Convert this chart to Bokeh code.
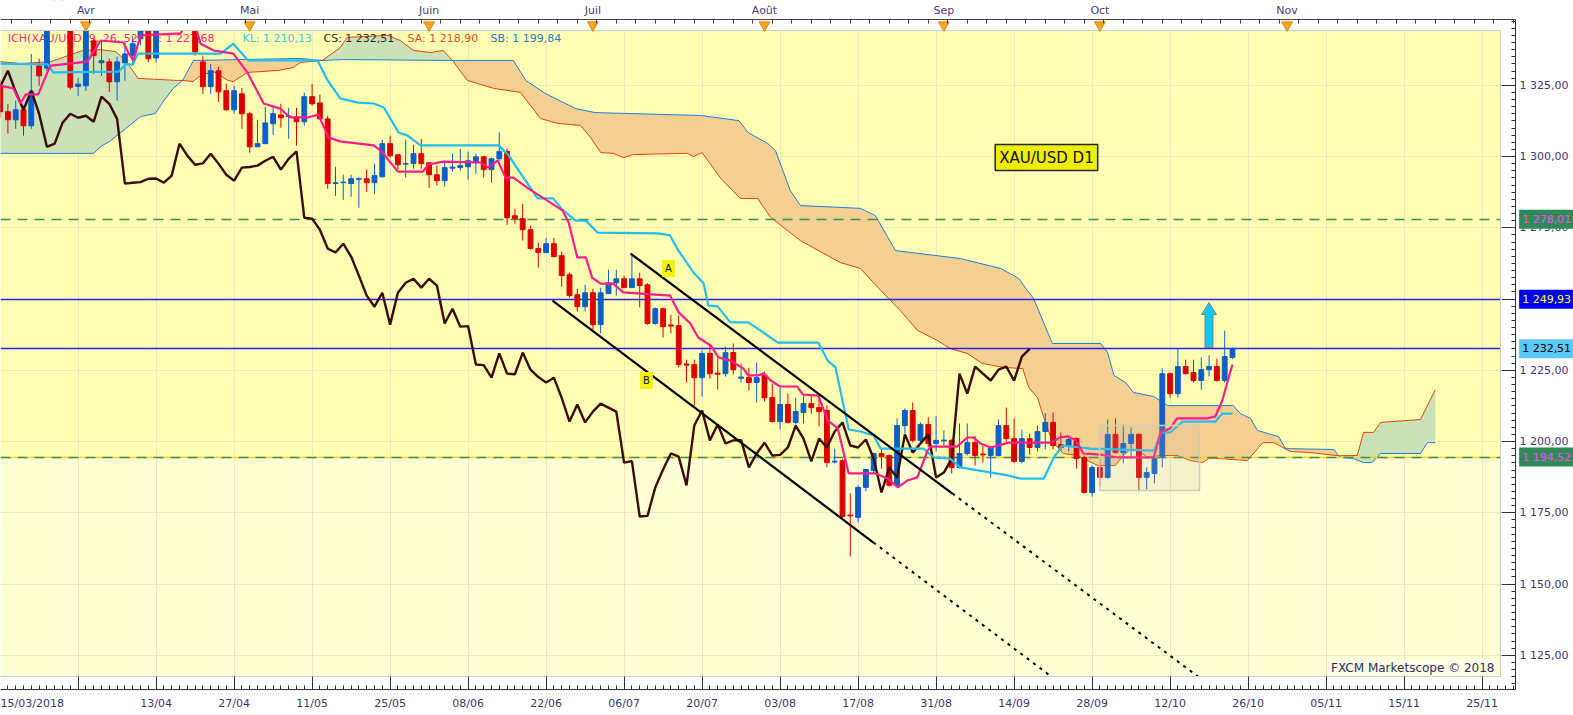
import numpy as np
from bokeh.plotting import figure
from bokeh.models import (Range1d, LinearAxis, FixedTicker, BoxAnnotation, Label,
                          ColumnDataSource)
from bokeh.core.properties import value
from bokeh.embed import file_html
from bokeh.resources import INLINE

# ---------------- data (XAU/USD daily, bar index 0 = mid-March 2018) ----------------
opens = [1324.8,1315.7,1312.9,1316.4,1310.8,1331.8,1331.0,1347.0,1353.0,1349.0,
         1324.6,1324.8,1340.6,1332.9,1333.2,1326.2,1332.9,1335.4,1341.3,1350.0,
         1334.6,1347.0,1348.0,1350.0,1347.0,1348.0,1333.2,1324.5,1330.1,1323.1,
         1316.4,1322.0,1315.0,1303.4,1304.5,1311.5,1314.6,1314.0,1313.9,1312.2,
         1321.0,1318.8,1313.2,1290.5,1290.8,1290.5,1292.0,1292.2,1290.8,1292.9,
         1304.5,1300.6,1297.3,1297.5,1301.0,1297.8,1293.6,1291.5,1295.9,1296.1,
         1296.4,1297.8,1299.9,1295.4,1299.2,1301.8,1279.2,1278.2,1274.3,1267.7,
         1266.3,1269.4,1265.2,1258.5,1251.5,1247.3,1252.2,1241.0,1251.9,1255.7,
         1257.1,1254.0,1257.1,1255.0,1241.4,1246.6,1240.9,1240.7,1227.2,1227.0,
         1222.4,1230.9,1224.0,1223.8,1231.2,1222.2,1222.4,1220.7,1223.3,1215.4,
         1207.0,1213.0,1206.7,1210.2,1213.3,1211.9,1210.9,1192.8,1193.3,1174.2,
         1173.4,1183.9,1189.8,1195.8,1195.1,1184.6,1205.6,1210.9,1200.4,1206.0,
         1199.3,1200.2,1200.4,1190.9,1195.8,1199.6,1195.6,1195.1,1195.1,1205.6,
         1201.0,1193.0,1201.0,1197.9,1203.5,1206.7,1198.9,1198.6,1201.0,1194.4,
         1182.1,1190.9,1187.4,1202.5,1196.1,1199.3,1202.5,1187.4,1188.8,1194.7,
         1223.8,1216.8,1226.3,1224.2,1221.4,1225.2,1226.3,1221.4,1229.5]
highs = [1327.0,1318.5,1319.6,1317.8,1336.0,1334.3,1352.0,1356.0,1357.0,1350.5,
         1327.6,1349.0,1341.3,1340.6,1334.3,1335.0,1340.3,1342.3,1349.0,1352.0,
         1348.0,1351.0,1352.0,1354.0,1350.0,1349.0,1335.4,1332.5,1331.5,1325.5,
         1324.8,1324.0,1315.7,1312.9,1317.4,1317.8,1318.5,1317.1,1317.1,1322.4,
         1325.5,1321.7,1314.3,1296.4,1293.6,1293.6,1292.6,1295.4,1297.5,1305.9,
         1307.3,1300.6,1305.9,1304.1,1306.2,1297.8,1296.8,1298.5,1301.0,1302.7,
         1301.7,1301.0,1300.2,1299.6,1308.5,1302.7,1281.7,1283.4,1275.7,1269.8,
         1271.5,1271.5,1266.6,1259.2,1253.6,1255.0,1253.6,1254.0,1260.3,1260.3,
         1258.2,1265.9,1259.2,1255.5,1247.0,1247.0,1244.5,1244.2,1228.7,1228.7,
         1231.9,1234.0,1229.1,1233.3,1234.4,1227.3,1225.9,1227.7,1224.5,1220.3,
         1218.9,1216.8,1215.4,1216.1,1216.1,1215.8,1212.6,1197.5,1193.8,1181.8,
         1184.6,1190.2,1196.1,1197.5,1195.5,1208.1,1211.6,1213.7,1206.7,1208.5,
         1209.0,1203.9,1200.8,1206.3,1206.3,1202.0,1198.6,1198.6,1207.7,1211.9,
         1208.1,1204.2,1202.8,1205.6,1210.0,1210.2,1203.2,1201.4,1201.4,1195.1,
         1191.6,1194.0,1207.7,1208.1,1206.0,1204.9,1202.8,1190.9,1195.8,1225.6,
         1224.2,1232.6,1228.7,1228.7,1229.5,1230.2,1229.1,1238.9,1233.0]
lows = [1313.5,1308.0,1309.7,1307.3,1309.7,1324.8,1330.0,1346.5,1347.0,1323.5,
        1321.3,1323.0,1329.0,1328.3,1322.7,1319.6,1326.6,1331.8,1339.0,1333.0,
        1333.0,1345.5,1346.0,1346.0,1345.5,1335.4,1322.0,1322.0,1319.2,1316.0,
        1315.0,1309.7,1301.3,1303.4,1304.5,1307.6,1310.1,1306.2,1303.8,1310.8,
        1317.8,1312.9,1288.7,1286.2,1284.8,1285.9,1282.0,1287.6,1286.9,1292.6,
        1299.6,1295.4,1292.6,1295.7,1295.7,1289.0,1289.8,1289.4,1294.7,1295.0,
        1291.9,1294.0,1292.6,1290.8,1298.5,1276.0,1276.4,1270.5,1267.3,1261.0,
        1266.0,1264.5,1254.3,1250.5,1245.6,1245.6,1238.9,1237.9,1251.9,1251.2,
        1254.0,1254.0,1247.0,1241.0,1241.0,1236.5,1237.9,1226.0,1220.7,1212.6,
        1215.8,1222.1,1218.2,1222.8,1223.5,1220.7,1217.9,1213.7,1214.0,1206.7,
        1204.2,1206.3,1206.0,1206.3,1209.8,1205.3,1190.9,1192.3,1173.0,1159.7,
        1171.6,1182.5,1188.8,1190.5,1184.2,1184.2,1202.8,1199.6,1199.3,1198.0,
        1196.5,1198.6,1188.8,1190.5,1195.1,1191.5,1192.6,1187.4,1194.7,1200.0,
        1192.6,1192.3,1195.4,1196.5,1197.2,1197.2,1196.8,1196.5,1190.5,1181.8,
        1180.7,1184.2,1187.0,1195.8,1192.3,1194.4,1182.5,1183.2,1185.3,1190.9,
        1215.4,1215.4,1223.5,1220.7,1218.2,1222.8,1221.0,1220.7,1229.0]
closes = [1315.7,1312.9,1316.4,1310.8,1322.7,1328.3,1347.5,1353.0,1349.0,1324.3,
          1325.4,1347.0,1335.4,1333.6,1326.2,1333.2,1336.0,1339.6,1347.0,1334.3,
          1347.0,1348.0,1350.0,1347.0,1348.0,1336.7,1324.5,1330.1,1322.7,1316.4,
          1323.1,1315.0,1303.4,1304.5,1311.8,1315.0,1313.6,1314.3,1312.2,1321.0,
          1318.5,1313.2,1290.5,1290.8,1291.0,1292.2,1292.3,1290.8,1293.3,1304.5,
          1300.3,1297.1,1297.6,1301.0,1297.5,1293.6,1291.5,1296.1,1296.3,1296.8,
          1298.5,1299.9,1295.4,1299.2,1301.8,1278.5,1278.2,1274.3,1267.7,1266.3,
          1269.4,1264.9,1258.2,1251.2,1247.3,1252.2,1241.0,1252.2,1255.7,1257.1,
          1254.0,1257.1,1254.7,1241.4,1246.6,1240.3,1240.5,1227.0,1226.8,1222.4,
          1230.9,1223.8,1223.6,1231.2,1225.2,1222.6,1220.7,1222.4,1215.3,1207.0,
          1213.0,1206.7,1210.5,1213.3,1211.9,1210.5,1192.6,1193.1,1173.7,1173.9,
          1183.9,1190.2,1195.8,1194.7,1184.6,1205.6,1210.9,1200.4,1206.0,1199.3,
          1200.4,1200.5,1190.9,1195.8,1199.6,1195.1,1195.3,1197.9,1205.6,1201.0,
          1193.0,1201.0,1197.9,1203.5,1206.7,1198.6,1197.9,1200.7,1194.0,1182.1,
          1190.9,1187.4,1202.5,1196.1,1199.3,1202.5,1187.4,1189.1,1194.0,1223.8,
          1216.8,1226.3,1223.8,1221.4,1225.2,1226.3,1221.4,1229.8,1232.5]
bar_index = list(range(len(closes)))
chikou_shift = 26

tenkan_x = [0.0,1.7,2.6,3.3,4.9,6.1,6.5,11.2,12.9,15.8,16.5,17.1,18.0,23.1,23.9,25.0,25.7,27.4,29.9,31.7,
            33.8,35.9,37.2,39.4,40.8,42.1,43.6,47.9,48.8,51.0,54.2,54.9,56.8,61.6,62.6,63.8,64.8,65.8,67.7,72.1,
            72.9,74.0,75.1,75.9,77.0,78.6,79.9,85.9,87.0,88.5,89.5,91.1,92.1,93.6,95.3,95.9,97.2,97.9,98.8,100.0,
            102.2,102.9,104.9,106.1,107.4,108.8,112.2,113.8,115.1,116.3,117.6,118.9,119.3,122.7,124.0,124.8,125.7,127.0,129.3,134.7,
            135.9,136.9,137.9,138.9,141.1,143.3,147.9,148.8,150.0,150.9,154.8,155.8,156.7,157.4,158.0]
tenkan_y = [1324.9,1323.9,1318.6,1321.8,1321.8,1329.8,1331.9,1333.3,1340.7,1340.0,1336.1,1333.7,1342.5,1343.2,1346.0,1346.0,1339.6,1337.2,1336.1,1329.5,
            1318.6,1316.8,1313.7,1313.7,1314.7,1306.7,1305.3,1303.9,1302.1,1294.7,1294.7,1297.2,1298.2,1297.9,1296.1,1298.6,1292.6,1292.6,1288.8,1281.1,
            1276.8,1264.6,1264.6,1257.5,1255.4,1255.4,1252.3,1251.2,1245.3,1241.4,1236.5,1233.7,1229.5,1228.4,1225.6,1223.2,1223.2,1223.9,1221.4,1219.3,
            1219.3,1216.5,1216.1,1207.4,1204.6,1188.8,1188.8,1187.0,1183.9,1186.3,1187.4,1196.8,1198.2,1198.2,1201.4,1201.4,1199.3,1197.9,1199.6,1199.6,
            1201.4,1201.8,1200.4,1195.8,1195.4,1194.4,1194.4,1203.2,1204.6,1208.1,1208.1,1208.8,1214.4,1221.4,1227.0]

kijun_x = [0.0,6.1,6.8,15.2,16.1,17.0,17.7,28.3,29.9,31.8,40.7,42.0,43.6,45.9,47.9,49.2,51.1,52.2,53.9,63.9,
           65.2,66.3,68.9,70.9,72.2,73.8,75.1,76.6,84.3,85.9,86.8,88.9,90.2,90.8,92.0,93.6,95.9,97.5,99.7,104.9,
           106.1,107.1,108.8,110.3,112.0,112.9,118.4,119.7,121.8,123.1,129.2,130.8,133.8,135.1,136.2,139.8,148.0,148.8,150.0,151.6,
           155.8,156.7,158.0]
kijun_y = [1332.6,1332.3,1329.5,1329.8,1332.3,1332.3,1336.1,1336.1,1339.6,1333.7,1333.7,1326.7,1320.4,1318.9,1318.6,1317.2,1308.4,1307.4,1303.9,1303.9,
           1300.4,1295.8,1285.3,1285.3,1281.1,1277.5,1277.5,1273.3,1273.0,1272.3,1267.7,1259.3,1255.4,1247.7,1247.4,1241.8,1241.8,1238.9,1234.7,1234.7,
           1228.4,1226.0,1204.2,1203.5,1202.1,1197.5,1197.5,1194.4,1194.0,1190.9,1188.1,1187.0,1187.0,1194.4,1198.6,1197.5,1196.8,1203.2,1203.2,1207.0,
           1207.0,1209.8,1209.8]

senkou_a_x = [0.0,2.6,6.5,10.6,12.9,14.8,16.1,17.7,22.7,23.4,24.7,25.7,27.4,29.2,29.9,31.7,35.6,37.6,38.5,41.3,
              43.6,44.5,49.7,51.3,53.0,55.2,56.8,58.0,59.9,63.3,66.7,69.3,71.5,74.4,75.7,77.0,78.6,79.9,81.2,88.1,
              88.9,90.0,92.4,94.9,97.1,98.8,102.6,107.7,110.3,112.9,115.4,117.6,120.2,121.8,124.0,125.9,128.6,131.1,131.9,133.0,
              133.8,134.7,135.6,136.3,138.1,139.4,140.7,143.0,144.0,144.9,145.8,147.1,148.8,150.9,152.6,154.2,154.9,156.5,159.9,161.9,
              163.3,165.4,168.0,171.6,174.0,174.8,176.1,177.0,182.1,184.0]
senkou_a_y = [1333.3,1332.6,1333.3,1337.2,1337.5,1336.8,1333.7,1327.4,1326.7,1326.7,1326.3,1328.4,1329.8,1326.7,1326.3,1329.5,1330.2,1331.2,1333.0,1333.7,
              1338.2,1341.8,1342.5,1340.7,1337.2,1336.5,1337.2,1333.7,1326.7,1323.9,1322.5,1313.3,1311.6,1310.9,1306.7,1301.4,1301.1,1299.6,1300.7,1301.1,
              1300.0,1301.4,1292.3,1285.3,1285.3,1278.6,1270.5,1262.8,1260.7,1253.0,1246.0,1239.0,1235.4,1232.6,1230.9,1227.4,1226.0,1225.6,1218.9,1215.4,
              1208.4,1201.4,1197.9,1195.8,1195.1,1193.3,1191.6,1191.6,1195.1,1197.2,1197.2,1194.4,1195.1,1195.1,1193.3,1192.6,1194.0,1194.0,1193.3,1199.6,
              1199.6,1196.5,1196.1,1195.0,1195.1,1203.2,1203.2,1206.7,1207.7,1218.2]

senkou_b_x = [0.0,12.0,12.9,14.2,16.1,18.0,19.9,21.0,22.2,23.4,24.8,38.5,41.3,44.0,58.0,65.8,67.4,69.9,73.8,76.3,
              89.8,94.7,95.9,98.4,99.4,101.3,102.6,110.3,112.2,114.8,123.1,128.3,130.6,131.7,132.5,134.9,141.1,142.0,142.8,144.3,
              145.3,147.9,149.7,158.1,159.0,160.3,161.2,162.9,163.9,164.8,171.0,171.6,171.9,173.5,174.8,175.9,177.0,182.1,183.0,184.0]
senkou_b_y = [1301.1,1301.1,1303.5,1305.6,1309.8,1314.0,1315.1,1319.6,1323.9,1326.7,1333.7,1334.4,1333.7,1334.0,1333.7,1333.7,1326.7,1322.1,1316.8,1315.4,
              1314.4,1312.6,1308.4,1304.6,1302.1,1288.1,1282.8,1281.8,1279.3,1267.0,1264.2,1260.7,1257.2,1253.0,1250.2,1234.4,1234.4,1231.2,1223.2,1220.7,
              1217.2,1215.8,1212.6,1212.6,1209.8,1208.1,1203.9,1202.5,1201.8,1197.5,1197.2,1195.0,1194.4,1194.0,1192.6,1192.6,1195.8,1195.8,1199.6,1199.6]

# cloud segments between span crossings (True = span A above span B)
cloud_breaks = [0.0, 23.4, 41.3, 58.0, 171.6, 184.0]
cloud_bull = [True, False, True, False, True]

# horizontal levels
level_resist = 1278.01
level_support = 1194.52
level_high = 1249.93
level_last = 1232.51

# drawn channel lines (bar index, price): solid part then dotted extension
chan_a_x = [80.82, 122.10, 155.99]
chan_a_y = [1265.96, 1181.75, 1112.63]
chan_b_x = [70.82, 111.97, 137.14]
chan_b_y = [1249.47, 1164.56, 1112.63]

# up arrow drawing
arrow_x = [154.47, 154.47, 154.03, 154.99, 155.95, 155.50, 155.50]
arrow_y = [1232.98, 1244.56, 1244.56, 1248.77, 1244.56, 1244.56, 1232.98]

# selection rectangle
sel_left, sel_right, sel_bottom, sel_top = 140.95, 153.77, 1182.81, 1205.61

# axis ticks / labels
date_ticks = list(range(10, 200, 10))
date_labels = ["", "13/04", "27/04", "11/05", "25/05", "08/06", "22/06", "06/07", "20/07",
               "03/08", "17/08", "31/08", "14/09", "28/09", "12/10", "26/10", "05/11", "15/11", "25/11"]
first_date_label = "15/03/2018"
month_ticks = [11, 32, 55, 76, 98, 121, 141, 165]
month_labels = ["Avr", "Mai", "Juin", "Juil", "Août", "Sep", "Oct", "Nov"]
price_ticks = [1125, 1150, 1175, 1200, 1225, 1250, 1275, 1300, 1325]
price_labels = ["1 125,00", "1 150,00", "1 175,00", "1 200,00", "1 225,00",
                "1 250,00", "1 275,00", "1 300,00", "1 325,00"]

# ---------------- layout constants (data units) ----------------
X_START, X_END = 0.0513, 201.72          # whole canvas width
Y_BOTTOM, Y_TOP = 1103.86, 1354.74       # whole canvas height
AXIS_X, AXIS_Y_BOTTOM, AXIS_Y_TOP = 194.28, 1112.98, 1348.07
PANEL_RIGHT, PANEL_TOP, PANEL_BOTTOM = 192.36, 1344.21, 1117.54

FONT = "DejaVu Sans"
AXIS_TXT = "#3A3A6A"
UP, DOWN = "#0B5FC6", "#DE0000"

p = figure(width=1573, height=715, output_backend="svg", toolbar_location=None,
           x_range=Range1d(X_START, X_END), y_range=Range1d(Y_BOTTOM, Y_TOP),
           y_axis_location="right", min_border=0, min_border_left=0, min_border_right=0,
           min_border_top=0, min_border_bottom=0,
           background_fill_color="white", border_fill_color="white",
           outline_line_color=None)

# background panels
p.add_layout(BoxAnnotation(right=PANEL_RIGHT, bottom=level_support, top=PANEL_TOP,
                           fill_color="#FFFFB4", fill_alpha=1, line_color=None, level="image"))
p.add_layout(BoxAnnotation(right=PANEL_RIGHT, bottom=PANEL_BOTTOM, top=level_support,
                           fill_color="#FFFFD6", fill_alpha=1, line_color=None, level="image"))

# axes (drawn at fixed positions around the chart panel)
xt = FixedTicker(ticks=date_ticks, minor_ticks=list(range(0, 195)))
xax = p.xaxis[0]
xax.ticker = xt
xax.major_label_overrides = {t: l for t, l in zip(date_ticks, date_labels)}
xax.fixed_location = AXIS_Y_BOTTOM
xax.bounds = (X_START, AXIS_X)
yt = FixedTicker(ticks=price_ticks, minor_ticks=[1115 + 2.5 * k for k in range(94)])
yax = p.yaxis[0]
yax.ticker = yt
yax.major_label_overrides = {t: l for t, l in zip(price_ticks, price_labels)}
yax.fixed_location = AXIS_X
yax.bounds = (AXIS_Y_BOTTOM, AXIS_Y_TOP)
for ax in (xax, yax):
    ax.major_tick_out = 0
    ax.minor_tick_out = 0
    ax.minor_tick_in = 4
    ax.axis_line_color = "#333333"
    ax.major_tick_line_color = "#333333"
    ax.minor_tick_line_color = "#333333"
    ax.major_label_text_font = FONT
    ax.major_label_text_font_size = "11px"
    ax.major_label_text_color = AXIS_TXT
xax.major_tick_in = 13
xax.major_label_standoff = 7
yax.major_tick_in = 14
yax.major_label_standoff = 4

top_axis = LinearAxis(ticker=FixedTicker(ticks=month_ticks,
                                         minor_ticks=[1.5 + 2.5 * k for k in range(78)]),
                      major_label_overrides={t: l for t, l in zip(month_ticks, month_labels)},
                      fixed_location=AXIS_Y_TOP, bounds=(X_START, AXIS_X),
                      major_tick_in=0, major_tick_out=0, minor_tick_in=4, minor_tick_out=0,
                      axis_line_color="#444444", minor_tick_line_color="#444444",
                      major_label_text_font=FONT, major_label_text_font_size="11px",
                      major_label_text_color="#4A3C78", major_label_standoff=3)
p.add_layout(top_axis, "above")

p.xgrid.ticker = xt
p.ygrid.ticker = yt
p.xgrid.grid_line_color = "#ECE8B8"
p.ygrid.grid_line_color = "#ECE8B8"

# cloud
for k, bull in enumerate(cloud_bull):
    lo, hi = cloud_breaks[k], cloud_breaks[k + 1]
    ax_ = [x for x in senkou_a_x if lo <= x <= hi]
    ay_ = [y for x, y in zip(senkou_a_x, senkou_a_y) if lo <= x <= hi]
    bx_ = [x for x in senkou_b_x if lo <= x <= hi]
    by_ = [y for x, y in zip(senkou_b_x, senkou_b_y) if lo <= x <= hi]
    p.patch(ax_ + bx_[::-1], ay_ + by_[::-1],
            fill_color="#CBE2B8" if bull else "#F6CF92", line_color=None)
p.line(senkou_a_x, senkou_a_y, line_color="#E0440E", line_width=1)
p.line(senkou_b_x, senkou_b_y, line_color="#1C7ED6", line_width=1)

# indicator header text
hdr_y = 1341.4
for tx, txt, col in [(1.0, "ICH(XAU/USD, 9, 26, 52) TL: 1 227,68", "#FF1E8C"),
                     (31.08, "KL: 1 210,13", "#3CC3F0"),
                     (41.46, "CS: 1 232,51", "#2B2B2B"),
                     (52.23, "SA: 1 218,90", "#E0501E"),
                     (62.87, "SB: 1 199,84", "#2080D0")]:
    p.text(x=[tx], y=[hdr_y], text=[txt], text_color=col, text_font=value(FONT),
           text_font_size="11px", text_baseline="middle", text_align="left")

# horizontal levels
p.hspan(y=[level_support], line_color="#FFD21E", line_width=1.6)
p.hspan(y=[level_resist, level_support], line_color="#3A8F5A", line_width=1.4, line_dash="10 7")
p.hspan(y=[level_high, level_last], line_color="#2222FF", line_width=1.5)

# candles
src = ColumnDataSource(dict(
    x=bar_index, high=highs, low=lows,
    top=[max(o, c) for o, c in zip(opens, closes)],
    bottom=[min(o, c) for o, c in zip(opens, closes)],
    color=[UP if c >= o else DOWN for o, c in zip(opens, closes)]))
p.segment(x0="x", y0="low", x1="x", y1="high", line_color="color", line_width=1, source=src)
p.vbar(x="x", width=0.62, top="top", bottom="bottom", fill_color="color",
       line_color="color", line_width=1, source=src)

# chikou, kijun, tenkan
p.line([i - chikou_shift for i in bar_index[chikou_shift:]], closes[chikou_shift:],
       line_color="#3D0A0A", line_width=2.4)
p.line(kijun_x, kijun_y, line_color="#22BDF2", line_width=2.2)
p.line(tenkan_x, tenkan_y, line_color="#FF1C8A", line_width=2.2)

# channel lines
p.line(chan_a_x[:2], chan_a_y[:2], line_color="black", line_width=2.2)
p.line(chan_a_x[1:], chan_a_y[1:], line_color="black", line_width=2, line_dash="3 5")
p.line(chan_b_x[:2], chan_b_y[:2], line_color="black", line_width=2.2)
p.line(chan_b_x[1:], chan_b_y[1:], line_color="black", line_width=2, line_dash="3 5")

# selection rectangle and arrow
p.quad(left=[sel_left], right=[sel_right], bottom=[sel_bottom], top=[sel_top],
       fill_color="#BDB79A", fill_alpha=0.18, line_color="#D2CCB4", line_width=1.5)
p.patch(arrow_x, arrow_y, fill_color="#12C6F6", line_color="#808080", line_width=1)

# white surround outside the chart panel
p.quad(left=[-5, PANEL_RIGHT, -5], right=[210, 210, 210],
       bottom=[PANEL_TOP, 1090, 1090], top=[1370, 1370, PANEL_BOTTOM],
       fill_color="white", line_color=None)
p.quad(left=[X_START - 1], right=[PANEL_RIGHT], bottom=[PANEL_BOTTOM], top=[PANEL_TOP],
       fill_alpha=0, line_color="#C8CED8", line_width=1)
p.scatter(x=month_ticks, y=[1346.14] * len(month_ticks), marker="inverted_triangle",
          size=11, fill_color="#F5A623", line_color="#E08A10")

# annotations
p.add_layout(Label(x=134.15, y=1299.65, text="XAU/USD D1", text_align="center",
                   text_baseline="middle", text_font=FONT, text_font_size="15px",
                   text_color="#111111", background_fill_color="#EEEE00",
                   border_line_color="#222222", border_line_width=1.5, padding=4))
p.add_layout(Label(x=85.69, y=1260.70, text="A", text_align="center", text_baseline="middle",
                   text_font=FONT, text_font_size="10px", text_color="#111111",
                   background_fill_color="#F2F20A", padding=3))
p.add_layout(Label(x=82.87, y=1221.40, text="B", text_align="center", text_baseline="middle",
                   text_font=FONT, text_font_size="10px", text_color="#111111",
                   background_fill_color="#F2F20A", padding=3))
p.add_layout(Label(x=191.72, y=1120.7, text="FXCM Marketscope © 2018", text_align="right",
                   text_baseline="middle", text_font=FONT, text_font_size="12px",
                   text_color="#2E2E5E", background_fill_color="#FFFFE8", padding=1))
p.add_layout(Label(x=X_START, y=1108.07, text=first_date_label, text_align="left",
                   text_baseline="middle", text_font=FONT, text_font_size="11px",
                   text_color=AXIS_TXT))
for lvl, bg, fg in [(level_resist, "#2E8B57", "#FF44FF"),
                    (level_high, "#0000FF", "#FFFF00"),
                    (level_last, "#5CC8F8", "#000000"),
                    (level_support, "#2E8B57", "#FF44FF")]:
    p.add_layout(Label(x=194.75, y=lvl, text=f"{lvl:,.2f}".replace(",", " ").replace(".", ","),
                       text_align="left", text_baseline="middle", text_font=FONT,
                       text_font_size="11px", text_color=fg, background_fill_color=bg,
                       padding=3))

open("out.html", "w").write(file_html(p, INLINE))
